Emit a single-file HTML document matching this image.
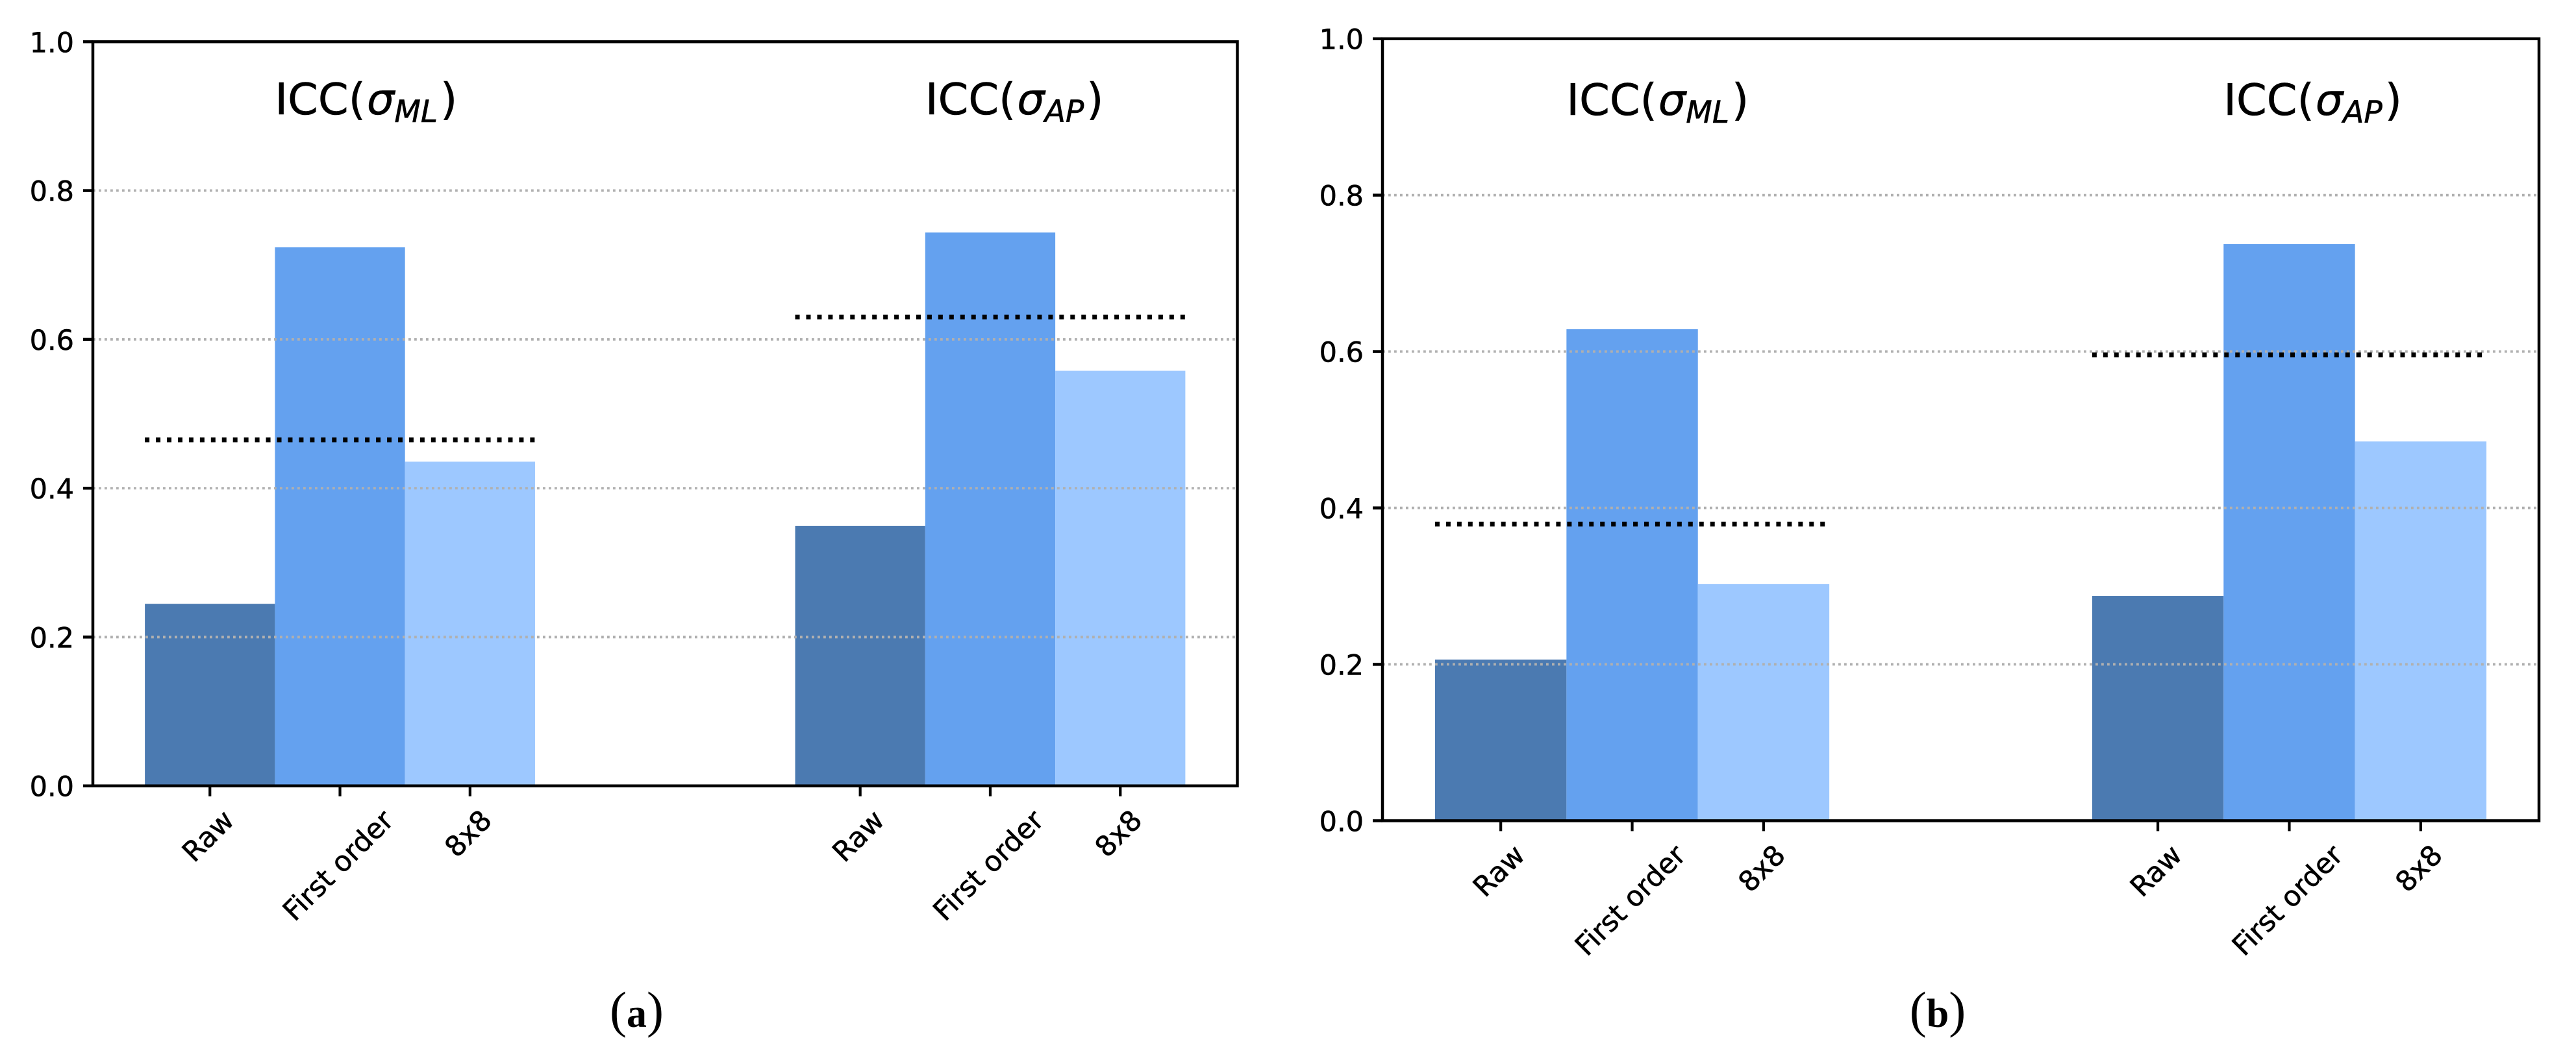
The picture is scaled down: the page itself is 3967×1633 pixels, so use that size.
<!DOCTYPE html>
<html lang="en">
<head>
<meta charset="utf-8">
<title>ICC comparison bar charts</title>
<style>
  html, body { margin: 0; padding: 0; background: #fff; }
  svg { display: block; }
  text { font-family: "DejaVu Sans", "Liberation Sans", sans-serif; fill: #000; stroke: #000; stroke-width: 0.6px; }
  .caption { font-family: "Liberation Serif", serif; font-size: 78px; stroke-width: 0; }
  .caption .letter { font-weight: bold; font-size: 62px; }
</style>
</head>
<body>
<svg id="figure" xmlns="http://www.w3.org/2000/svg" width="3967" height="1633" viewBox="0 0 3967 1633">
  <rect x="0" y="0" width="3967" height="1633" fill="#ffffff"/>
  <text class="caption" x="980.5" y="1582" text-anchor="middle">(<tspan class="letter">a</tspan>)</text>
  <text class="caption" x="2984" y="1582" text-anchor="middle">(<tspan class="letter">b</tspan>)</text>
</svg>
<script>
// ----- chart data -----
const categories = ['Raw', 'First order', '8x8'];
const groupPositions = [0, 5];
const yTicks = [0, 0.2, 0.4, 0.6, 0.8, 1.0];
const yTickLabels = ['0.0', '0.2', '0.4', '0.6', '0.8', '1.0'];
const panelAMl = [0.2447, 0.7237, 0.4357];
const panelAAp = [0.3495, 0.7436, 0.558];
const panelAMeans = [0.465, 0.63];
const panelBMl = [0.206, 0.6286, 0.3026];
const panelBAp = [0.2875, 0.7374, 0.485];
const panelBMeans = [0.3793, 0.5958];
const barColors = ['#4b7ab1', '#64a1ef', '#9dc8ff'];

const SVG_NS = 'http://www.w3.org/2000/svg';
const figure = document.getElementById('figure');

function make(parent, tag, attrs) {
  const el = document.createElementNS(SVG_NS, tag);
  for (const k in attrs) el.setAttribute(k, attrs[k]);
  parent.appendChild(el);
  return el;
}

function drawPanel(id, box, mlValues, apValues, means) {
  const xScale = u => box.left + (u + 0.9) / 8.8 * (box.right - box.left);
  const yScale = v => box.bottom - v * (box.bottom - box.top);

  const panel = make(figure, 'g', {});
  
  

  // bars
  [mlValues, apValues].forEach((series, g) => {
    series.forEach((value, i) => {
      const u = groupPositions[g] + i;
      const x0 = xScale(u - 0.5);
      const x1 = xScale(u + 0.5);
      const bar = make(panel, 'rect', {
        x: x0, y: yScale(value), width: x1 - x0,
        height: yScale(0) - yScale(value), fill: barColors[i]
      });
      
      
    });
  });

  // grid lines
  yTicks.slice(1, 5).forEach(t => {
    const grid = make(panel, 'line', {
      x1: box.left, x2: box.right, y1: yScale(t), y2: yScale(t),
      stroke: '#b0b0b0', 'stroke-width': 3.8, 'stroke-dasharray': '3.8 5.2'
    });
    
    
  });

  // mean lines
  means.forEach((m, g) => {
    const line = make(panel, 'line', {
      x1: xScale(groupPositions[g] - 0.5), x2: xScale(groupPositions[g] + 2.5),
      y1: yScale(m), y2: yScale(m),
      stroke: '#000', 'stroke-width': 7.4, 'stroke-dasharray': '7 9.95'
    });
    
    
  });

  // spines
  const spines = make(panel, 'rect', {
    x: box.left, y: box.top, width: box.right - box.left, height: box.bottom - box.top,
    fill: 'none', stroke: '#000', 'stroke-width': 4.5
  });
  
  

  // y ticks and labels
  yTicks.forEach((t, i) => {
    const tick = make(panel, 'line', {
      x1: box.left - 15, x2: box.left, y1: yScale(t), y2: yScale(t),
      stroke: '#000', 'stroke-width': 4.5
    });
    
    
    const label = make(panel, 'text', {
      x: box.left - 29, y: yScale(t) + 16, 'text-anchor': 'end', 'font-size': 43
    });
    label.textContent = yTickLabels[i];
    
    
  });

  // x ticks and rotated labels
  groupPositions.forEach(g => {
    categories.forEach((name, i) => {
      const x = xScale(g + i);
      const tick = make(panel, 'line', {
        x1: x, x2: x, y1: box.bottom, y2: box.bottom + 16,
        stroke: '#000', 'stroke-width': 4.2
      });
      
      
      const label = make(panel, 'text', { 'text-anchor': 'middle', 'font-size': 43 });
      label.textContent = name;
      
      
      const len = label.getComputedTextLength();
      const extent = (len + 34) * Math.SQRT1_2;
      const cy = box.bottom + 33 + extent / 2;
      label.setAttribute('transform', 'translate(' + (x - 3) + ' ' + cy + ') rotate(-45) translate(0 15)');
    });
  });

  // group titles
  ['ML', 'AP'].forEach((sub, g) => {
    const title = make(panel, 'text', {
      x: xScale(groupPositions[g] + 0.5), y: yScale(0.9025), 'font-size': 67
    });
    
    
    title.appendChild(document.createTextNode('ICC('));
    const sigma = make(title, 'tspan', { 'font-style': 'italic', dx: 2 });
    sigma.textContent = '\u03C3';
    const subscript = make(title, 'tspan', { 'font-style': 'italic', 'font-size': 47, dy: 12 });
    subscript.textContent = sub;
    const close = make(title, 'tspan', { dy: -12, dx: 4 });
    close.textContent = ')';
  });
}

drawPanel('a', { left: 143, right: 1905.5, top: 64.3, bottom: 1210.7 }, panelAMl, panelAAp, panelAMeans);
drawPanel('b', { left: 2129, right: 3910, top: 59.7, bottom: 1264.4 }, panelBMl, panelBAp, panelBMeans);
</script>
</body>
</html>
